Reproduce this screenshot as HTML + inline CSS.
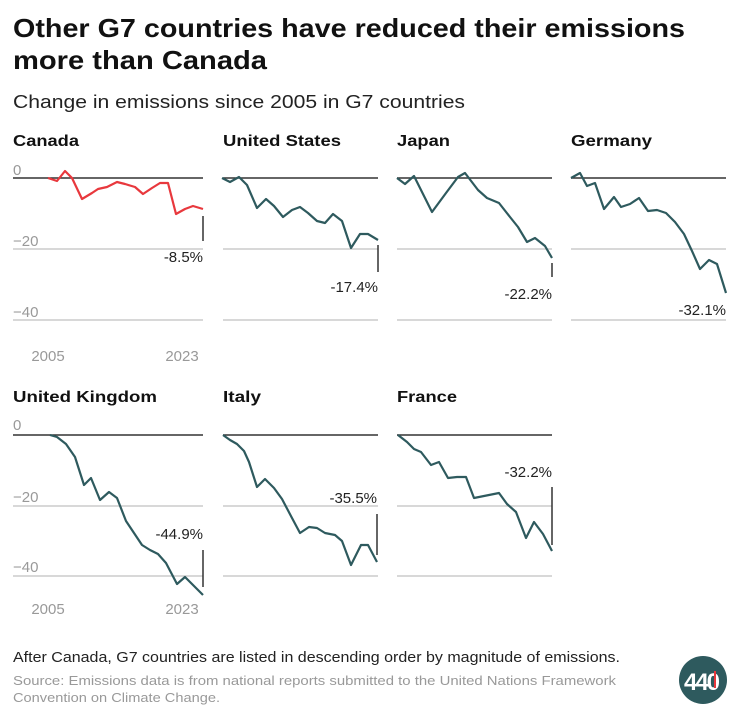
<!DOCTYPE html>
<html><head><meta charset="utf-8"><style>
body{margin:0;background:#fff;}
svg{display:block;font-family:"Liberation Sans",sans-serif;}
</style></head><body>
<svg width="740" height="716" viewBox="0 0 740 716">
<text x="13" y="37" font-size="26" font-weight="bold" fill="#111" textLength="672" lengthAdjust="spacingAndGlyphs">Other G7 countries have reduced their emissions</text>
<text x="13" y="69" font-size="26" font-weight="bold" fill="#111" textLength="254" lengthAdjust="spacingAndGlyphs">more than Canada</text>
<text x="13" y="108" font-size="18" fill="#222" textLength="452" lengthAdjust="spacingAndGlyphs">Change in emissions since 2005 in G7 countries</text>
<g font-size="16" font-weight="bold" fill="#111">
<text x="13" y="146" textLength="66" lengthAdjust="spacingAndGlyphs">Canada</text><text x="223" y="146" textLength="118" lengthAdjust="spacingAndGlyphs">United States</text><text x="397" y="146" textLength="53" lengthAdjust="spacingAndGlyphs">Japan</text><text x="571" y="146" textLength="81" lengthAdjust="spacingAndGlyphs">Germany</text>
<text x="13" y="402" textLength="144" lengthAdjust="spacingAndGlyphs">United Kingdom</text><text x="223" y="402" textLength="38" lengthAdjust="spacingAndGlyphs">Italy</text><text x="397" y="402" textLength="60" lengthAdjust="spacingAndGlyphs">France</text>
</g>
<g font-size="15" fill="#999">
<text x="13" y="175">0</text><text x="13" y="246">−20</text><text x="13" y="317">−40</text>
<text x="48" y="361" text-anchor="middle">2005</text><text x="182" y="361" text-anchor="middle">2023</text>
<text x="13" y="430">0</text><text x="13" y="502">−20</text><text x="13" y="572">−40</text>
<text x="48" y="614" text-anchor="middle">2005</text><text x="182" y="614" text-anchor="middle">2023</text>
</g>
<g stroke="#ccc" stroke-width="1.5">
<line x1="13" x2="203" y1="249" y2="249"/><line x1="13" x2="203" y1="320" y2="320"/>
<line x1="223" x2="378" y1="249" y2="249"/><line x1="223" x2="378" y1="320" y2="320"/>
<line x1="397" x2="552" y1="249" y2="249"/><line x1="397" x2="552" y1="320" y2="320"/>
<line x1="571" x2="726" y1="249" y2="249"/><line x1="571" x2="726" y1="320" y2="320"/>
<line x1="13" x2="203" y1="506" y2="506"/><line x1="13" x2="203" y1="576" y2="576"/>
<line x1="223" x2="378" y1="506" y2="506"/><line x1="223" x2="378" y1="576" y2="576"/>
<line x1="397" x2="552" y1="506" y2="506"/><line x1="397" x2="552" y1="576" y2="576"/>
</g>
<g stroke="#333" stroke-width="1.5">
<line x1="13" x2="203" y1="178" y2="178"/><line x1="223" x2="378" y1="178" y2="178"/>
<line x1="397" x2="552" y1="178" y2="178"/><line x1="571" x2="726" y1="178" y2="178"/>
<line x1="13" x2="203" y1="435" y2="435"/><line x1="223" x2="378" y1="435" y2="435"/><line x1="397" x2="552" y1="435" y2="435"/>
<line x1="203" x2="203" y1="216" y2="241"/><line x1="378" x2="378" y1="245" y2="272"/><line x1="552" x2="552" y1="263" y2="277"/>
<line x1="203" x2="203" y1="550" y2="587"/><line x1="377" x2="377" y1="514" y2="555"/><line x1="552" x2="552" y1="487" y2="545"/>
</g>
<polyline fill="none" stroke="#e8383d" stroke-width="2.2" stroke-linejoin="round" points="48,178 57,181 65,171 72,178 82,199 92,193 98,189 107,187 117,182 125,184 135,187 143,194 152,188 160,183 168,183 176,214 185,209 193,206 203,209"/>
<g fill="none" stroke="#2e5a5e" stroke-width="2.2" stroke-linejoin="round">
<polyline points="222,178 230,182 239,177 247,185 257,208 266,199 274,206 283,217 292,210 300,207 308,213 317,221 325,223 333,214 342,221 351,248 360,234 368,234 378,240"/>
<polyline points="397,178 405,184 414,176 432,212 446,193 458,177 465,173 478,190 487,198 499,203 510,217 518,227 527,242 535,238 545,246 552,258"/>
<polyline points="571,178 580,173 587,186 595,183 604,209 614,197 621,207 630,204 639,198 648,211 657,210 666,213 675,222 684,234 692,251 700,269 709,260 717,264 726,293"/>
<polyline points="50,435 57,437 66,444 75,457 84,485 91,478 100,500 109,492 117,498 126,521 142,545 150,550 158,554 166,563 177,584 185,577 203,595"/>
<polyline points="223,435 230,440 237,444 244,451 249,462 257,487 265,479 274,488 282,499 292,518 300,533 309,527 317,528 325,533 335,535 342,541 351,565 361,545 368,545 377,562"/>
<polyline points="398,435 407,442 414,449 421,452 431,465 439,462 448,478 457,477 466,477 474,498 499,493 507,504 516,512 526,538 534,522 543,534 552,551"/>
</g>
<g font-size="15" fill="#222" text-anchor="end">
<text x="203" y="262">-8.5%</text><text x="378" y="292">-17.4%</text><text x="552" y="299">-22.2%</text><text x="726" y="315">-32.1%</text>
<text x="203" y="539">-44.9%</text><text x="377" y="503">-35.5%</text><text x="552" y="477">-32.2%</text>
</g>
<text x="13" y="662" font-size="15" fill="#222" textLength="607" lengthAdjust="spacingAndGlyphs">After Canada, G7 countries are listed in descending order by magnitude of emissions.</text>
<text x="13" y="685" font-size="13" fill="#999" textLength="603" lengthAdjust="spacingAndGlyphs">Source: Emissions data is from national reports submitted to the United Nations Framework</text>
<text x="13" y="702" font-size="13" fill="#999" textLength="207" lengthAdjust="spacingAndGlyphs">Convention on Climate Change.</text>
<circle cx="703" cy="680" r="24" fill="#2e5a5e"/>
<text x="701" y="690" font-size="24" font-weight="bold" fill="#fff" text-anchor="middle" letter-spacing="-2">440</text>
<line x1="715" x2="715" y1="671" y2="688" stroke="#e8383d" stroke-width="2"/>
</svg>
</body></html>
